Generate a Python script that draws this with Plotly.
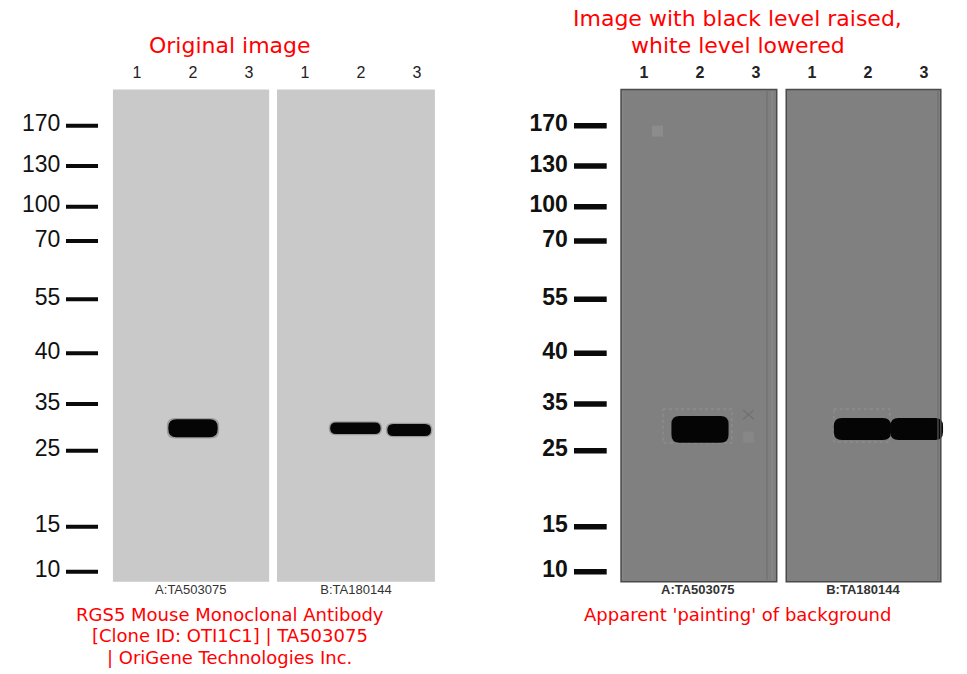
import plotly.graph_objects as go

# molecular weight ladder (kDa) and how far each marker ran (px from top of blot image)
marker_kda = [170, 130, 100, 70, 55, 40, 35, 25, 15, 10]
marker_pos = [65.7, 106, 146.7, 181, 239.3, 293.3, 344, 390.7, 466.7, 511.7]

lane_labels = ["1", "2", "3", "1", "2", "3"]
lane_pos = [0, 1, 2, 3, 4, 5]
blot_labels = ["A:TA503075", "B:TA180144"]
blot_label_pos = [0.96, 3.91]

# bands on the original blot: lane centre, migration, half width (lanes), thickness (px)
band_lane = [1.0, 3.9, 4.86]
band_pos = [368.3, 368.3, 370.0]
band_halfwidth = [0.44, 0.45, 0.39]
band_thick = [18, 11.5, 12]

# the same bands once black level is raised / white level lowered
adj_band_lane = [1.0, 3.9, 4.87]
adj_band_pos = [369.3, 369.0, 369.0]
adj_band_halfwidth = [0.51, 0.51, 0.47]
adj_band_thick = [26.7, 22, 22]

PX = 56.0  # pixels per lane
RED = "#ff0000"
TITLE_FONT = "DejaVu Sans"
GEL_FONT = "Liberation Sans, Arial"

W, H = 967, 674


def fx(px):
    return px / W


def fy(py):
    return 1 - py / H


def capsule(xc, yc, hw, th, r_px):
    x0, x1 = xc - hw, xc + hw
    y0, y1 = yc - th / 2, yc + th / 2
    r = min(r_px, th / 2)
    rx = r / PX
    return (f"M{x0+rx},{y0} L{x1-rx},{y0} Q{x1},{y0} {x1},{y0+r} "
            f"L{x1},{y1-r} Q{x1},{y1} {x1-rx},{y1} L{x0+rx},{y1} "
            f"Q{x0},{y1} {x0},{y1-r} L{x0},{y0+r} Q{x0},{y0} {x0+rx},{y0} Z")


def add_panel(fig, n, gels, gel_fill, bands, ladder_x, text_x, line_w, bold):
    xa = "x" if n == 1 else "x%d" % n
    ya = "y" if n == 1 else "y%d" % n
    wt = "bold" if bold else "normal"

    for x0, x1 in gels:
        fig.add_shape(type="rect", xref=xa, yref=ya, x0=x0, x1=x1, y0=29.5, y1=521.7,
                      fillcolor=gel_fill, line_width=0, layer="below")

    lanes, pos, hw, th, blur = bands
    for xc, yc, w, t in zip(lanes, pos, hw, th):
        if blur:
            # soft edge of the film band
            fig.add_shape(type="path", xref=xa, yref=ya,
                          path=capsule(xc, yc, w + 1.5 / PX, t + 2.5, 8),
                          fillcolor="rgba(0,0,0,0.22)", line_width=0)
        fig.add_shape(type="path", xref=xa, yref=ya, path=capsule(xc, yc, w, t, 8),
                      fillcolor="#050505", line_width=0)

    # marker ladder
    lx, ly = [], []
    for p in marker_pos:
        lx += [ladder_x[0], ladder_x[1], None]
        ly += [p, p, None]
    fig.add_trace(go.Scatter(x=lx, y=ly, mode="lines", xaxis=xa, yaxis=ya,
                             line=dict(color="#0a0a0a", width=line_w), hoverinfo="skip"))
    fig.add_trace(go.Scatter(x=[text_x] * len(marker_kda), y=marker_pos, mode="text",
                             text=[str(k) for k in marker_kda], textposition="middle left",
                             textfont=dict(family=GEL_FONT, size=23, color="#111111", weight=wt),
                             xaxis=xa, yaxis=ya, cliponaxis=False, hoverinfo="skip"))
    fig.add_trace(go.Scatter(x=lane_pos, y=[14] * len(lane_pos), mode="text", text=lane_labels,
                             textfont=dict(family=GEL_FONT, size=16, color="#222222", weight=wt),
                             xaxis=xa, yaxis=ya, cliponaxis=False, hoverinfo="skip"))
    fig.add_trace(go.Scatter(x=blot_label_pos, y=[530.7, 530.7], mode="text", text=blot_labels,
                             textfont=dict(family=GEL_FONT, size=13, color="#333333", weight=wt),
                             xaxis=xa, yaxis=ya, cliponaxis=False, hoverinfo="skip"))


fig = go.Figure()

add_panel(fig, 1, [(-0.43, 2.36), (2.5, 5.32)], "#c9c9c9",
          (band_lane, band_pos, band_halfwidth, band_thick, True),
          (-1.268, -0.696), -1.37, 4, False)

add_panel(fig, 2, [(-0.41, 2.37), (2.54, 5.30)], "#808080",
          (adj_band_lane, adj_band_pos, adj_band_halfwidth, adj_band_thick, False),
          (-1.25, -0.666), -1.36, 5.5, True)

# edge lines and specks that show up on the adjusted image
for x0, x1 in [(-0.41, 2.37), (2.54, 5.30)]:
    fig.add_shape(type="rect", xref="x2", yref="y2", x0=x0, x1=x1, y0=29.5, y1=521.7,
                  line=dict(color="#4a4a4a", width=1.5), fillcolor="rgba(0,0,0,0)")
for xv, col in [(-0.38, "#8a8a8a"), (2.196, "#6c6c6c"), (2.29, "#8c8c8c"), (5.25, "#6c6c6c")]:
    fig.add_shape(type="line", xref="x2", yref="y2", x0=xv, x1=xv, y0=31, y1=520,
                  line=dict(color=col, width=1))
fig.add_shape(type="rect", xref="x2", yref="y2", x0=0.143, x1=0.339, y0=65.7, y1=76.7,
              fillcolor="#8c8c8c", line_width=0)
fig.add_shape(type="rect", xref="x2", yref="y2", x0=1.77, x1=1.96, y0=371.7, y1=382.7,
              fillcolor="#878787", line_width=0)
fig.add_shape(type="path", xref="x2", yref="y2",
              path="M1.77,350 L1.96,359.3 M1.96,350 L1.77,359.3",
              line=dict(color="#727272", width=1.5))
fig.add_shape(type="rect", xref="x2", yref="y2", x0=0.34, x1=1.57, y0=349, y1=383,
              line=dict(color="#939393", width=1, dash="dot"), fillcolor="rgba(0,0,0,0)", layer="below")
fig.add_shape(type="rect", xref="x2", yref="y2", x0=3.39, x1=4.39, y0=349, y1=382,
              line=dict(color="#939393", width=1, dash="dot"), fillcolor="rgba(0,0,0,0)", layer="below")

x_rng = [-2.125, 5.375]
y_rng = [540, 0]
ydom = [fy(600), fy(60)]
fig.update_layout(
    width=W, height=H, margin=dict(l=0, r=0, t=0, b=0),
    paper_bgcolor="white", plot_bgcolor="white", showlegend=False,
    xaxis=dict(domain=[fx(18), fx(438)], range=x_rng, visible=False),
    yaxis=dict(domain=ydom, range=y_rng, visible=False),
    xaxis2=dict(domain=[fx(525), fx(945)], range=x_rng, visible=False, anchor="y2"),
    yaxis2=dict(domain=ydom, range=y_rng, visible=False, anchor="x2"),
)

titles = [
    ("Original image", 229.5, 45, 22),
    ("Image with black level raised,", 737.5, 18, 22),
    ("white level lowered", 737.5, 45, 22),
    ("RGS5 Mouse Monoclonal Antibody", 229.5, 614, 18),
    ("[Clone ID: OTI1C1] | TA503075", 229.5, 635.5, 18),
    ("| OriGene Technologies Inc.", 229.5, 657, 18),
    ("Apparent 'painting' of background", 737.5, 614, 18),
]
for txt, px, py, sz in titles:
    fig.add_annotation(text=txt, xref="paper", yref="paper", x=fx(px), y=fy(py),
                       xanchor="center", yanchor="middle", showarrow=False,
                       font=dict(family=TITLE_FONT, size=sz, color=RED))

# drop the default body margin so the figure fills the window exactly
fig.write_html("out.html", config={"displayModeBar": False},
               post_script="document.body.style.margin='0';")
